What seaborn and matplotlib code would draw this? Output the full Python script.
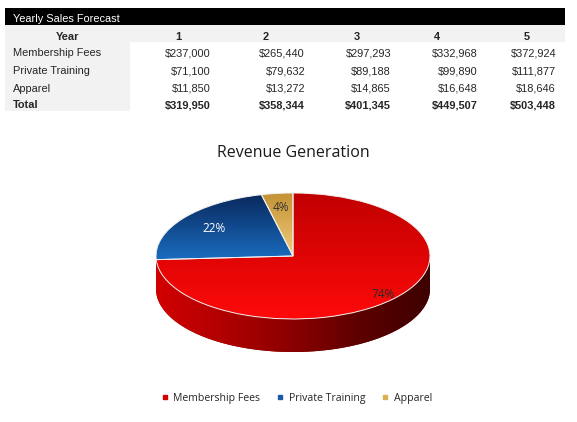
import numpy as np
import seaborn as sns
import matplotlib.pyplot as plt
from matplotlib.colors import LinearSegmentedColormap
from matplotlib.patches import Rectangle, Polygon
from matplotlib.lines import Line2D

# ==============================
# DATA
# ==============================
years = ["1", "2", "3", "4", "5"]
categories = ["Membership Fees", "Private Training", "Apparel"]
membership = [237000, 265440, 297293, 332968, 372924]
private_training = [71100, 79632, 89188, 99890, 111877]
apparel = [11850, 13272, 14865, 16648, 18646]
totals = [319950, 358344, 401345, 449507, 503448]

# pie uses year 1
pie_values = [membership[0], private_training[0], apparel[0]]

# ==============================
# STYLE
# ==============================
sns.set_theme(style="white")
plt.rcParams["font.family"] = ["Liberation Sans", "DejaVu Sans"]

W, H = 577, 422
fig = plt.figure(figsize=(W / 100, H / 100), dpi=100)
fig.patch.set_facecolor("white")


def fx(x):
    return x / W


def fy(y):
    return 1 - y / H


# ==============================
# TABLE
# ==============================
gray = "#f2f2f2"
fig.patches.append(Rectangle((fx(5), fy(25)), fx(560), 17 / H, transform=fig.transFigure,
                             facecolor="black", edgecolor="none"))
fig.patches.append(Rectangle((fx(5), fy(42)), fx(560), 17 / H, transform=fig.transFigure,
                             facecolor=gray, edgecolor="none"))
fig.patches.append(Rectangle((fx(5), fy(111)), fx(125), 69 / H, transform=fig.transFigure,
                             facecolor=gray, edgecolor="none"))

fs = 7.9
dy = 1.5  # small nudge down
fig.text(fx(13), fy(17 + dy), "Yearly Sales Forecast", color="white", fontsize=fs,
         va="center")

fig.text(fx(68), fy(35 + dy), "Year", fontsize=fs, weight="bold", ha="center", va="center")
head_x = [175, 263, 354, 434, 524]
val_x = [211, 305, 391, 478, 556]
for hx, yr in zip(head_x, years):
    fig.text(fx(hx), fy(35 + dy), yr, fontsize=fs, weight="bold", ha="left", va="center")

rows = [membership, private_training, apparel]
row_y = [52, 70, 87]
for name, vals, ry in zip(categories, rows, row_y):
    fig.text(fx(13), fy(ry + dy), name, fontsize=fs, va="center")
    for vx, v in zip(val_x, vals):
        fig.text(fx(vx), fy(ry + dy), f"${v:,}", fontsize=fs, ha="right", va="center")

fig.text(fx(13), fy(104 + dy), "Total", fontsize=fs, weight="bold", va="center")
for vx, v in zip(val_x, totals):
    fig.text(fx(vx), fy(104 + dy), f"${v:,}", fontsize=fs, weight="bold", ha="right",
             va="center")

# ==============================
# 3D-LOOKING PIE
# ==============================
cx, cy, a, b, depth_px = 293, 256, 137, 63, 33
depth = depth_px / b
xl, yl = (-1.05, 1.05), (-1.0 - depth - 0.13, 1.05)
ax_w = (xl[1] - xl[0]) * a
ax_h = (yl[1] - yl[0]) * b
ax_left = cx + xl[0] * a
ax_bottom = cy - yl[0] * b
ax = fig.add_axes([fx(ax_left), fy(ax_bottom), ax_w / W, ax_h / H])

base_colors = ["#e00000", "#1560b0", "#dcb45a"]
grad_colors = [("#c00000", "#ff0a0a"), ("#0a2a5e", "#1a6cc0"), ("#c49235", "#efcd7a")]
label_colors = ["#2a2a2a", "white", "#333333"]
label_dist = [0.9, 0.72, 0.77]

wedges, texts, autotexts = ax.pie(
    pie_values, colors=base_colors, startangle=90, counterclock=False,
    autopct="%1.0f%%", pctdistance=0.8,
    wedgeprops=dict(edgecolor="#f0f0f0", linewidth=0.7),
    textprops=dict(family=["Open Sans", "DejaVu Sans"], fontsize=8.5))
ax.set_aspect("auto")

# gradient on top faces
for w, (c_top, c_bot) in zip(wedges, grad_colors):
    ext = w.get_path().get_extents()
    cmap = LinearSegmentedColormap.from_list("g", [c_bot, c_top])
    grad = np.linspace(0, 1, 128).reshape(-1, 1)
    im = ax.imshow(grad, cmap=cmap, origin="lower", aspect="auto",
                   extent=(ext.x0, ext.x1, ext.y0, ext.y1), zorder=1.5,
                   interpolation="bicubic")
    im.set_clip_path(w)
    w.set_facecolor("none")
    w.set_zorder(2)

# side of the disc (front half)
t = np.linspace(np.pi, 2 * np.pi, 200)
upper = np.column_stack([np.cos(t), np.sin(t)])
lower = np.column_stack([np.cos(t[::-1]), np.sin(t[::-1]) - depth])
side = Polygon(np.vstack([upper, lower]), closed=True, facecolor="#900000",
               edgecolor="none", zorder=1)
ax.add_patch(side)
side_cmap = LinearSegmentedColormap.from_list(
    "side", ["#d20000", "#b00000", "#8a0000", "#5c0000", "#3e0000"])
gx = np.linspace(0, 1, 256).reshape(1, -1)
sim = ax.imshow(gx, cmap=side_cmap, aspect="auto", extent=(-1, 1, -1 - depth, 0),
                zorder=1.2, interpolation="bicubic")
sim.set_clip_path(side)

# label placement along each wedge's middle angle
for w, at, col, dist in zip(wedges, autotexts, label_colors, label_dist):
    mid = np.deg2rad((w.theta1 + w.theta2) / 2)
    at.set_position((dist * np.cos(mid), dist * np.sin(mid)))
    at.set_color(col)
    at.set_zorder(5)

ax.set_xlim(*xl)
ax.set_ylim(*yl)
ax.axis("off")

fig.text(fx(293), fy(153), "Revenue Generation", fontsize=11.5,
         family=["Open Sans", "DejaVu Sans"], color="#1a1a1a", ha="center", va="center")

legend_colors = ["#d00000", "#1a5aa8", "#d8b050"]
handles = [Line2D([], [], linestyle="none", marker="s", markersize=3.5,
                  markerfacecolor=c, markeredgecolor=c) for c in legend_colors]
fig.legend(handles, categories, loc="center", bbox_to_anchor=(fx(297), fy(398)),
           ncol=3, frameon=False, handlelength=0.6, handletextpad=0.5,
           columnspacing=1.6, prop=dict(family=["Open Sans", "DejaVu Sans"], size=7.6))

fig.savefig("out.png", dpi=100, facecolor="white")
